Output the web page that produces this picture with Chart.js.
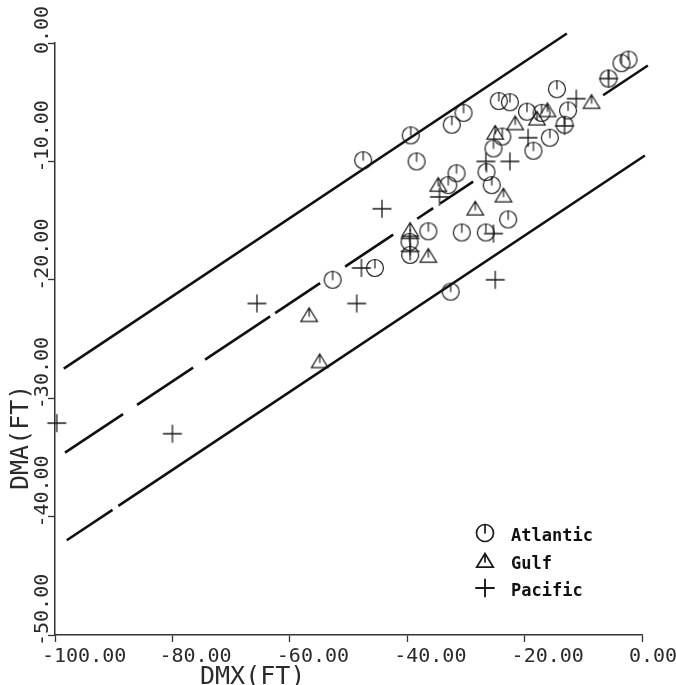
<!DOCTYPE html>
<html><head><meta charset="utf-8">
<script src="https://cdn.jsdelivr.net/npm/chart.js@4.4.1/dist/chart.umd.min.js"></script>
<style>html,body{margin:0;padding:0;background:#fff}#wrap{width:676px;height:685px;position:relative}</style>
</head><body><div id="wrap"><canvas id="c"></canvas></div>
<script>
// ---- data ----
const xTicks = [-100, -80, -60, -40, -20, 0];
const yTicks = [0, -10, -20, -30, -40, -50];
const xTitle = 'DMX(FT)';
const yTitle = 'DMA(FT)';
const seriesNames = ['Atlantic', 'Gulf', 'Pacific'];

const atlantic = [
  [-47.5,-9.9],[-39.4,-7.8],[-38.4,-10.0],[-32.4,-6.9],[-30.4,-5.9],[-31.6,-11.0],[-33.0,-12.0],
  [-22.8,-14.9],[-36.4,-15.9],[-30.7,-16.0],[-26.6,-16.0],[-39.6,-16.8],[-39.5,-17.9],[-45.5,-19.0],
  [-52.7,-20.0],[-32.6,-21.0],[-24.4,-4.9],[-22.5,-5.0],[-14.5,-3.9],[-19.6,-5.8],[-17.1,-5.9],
  [-12.6,-5.7],[-13.2,-6.9],[-15.7,-8.0],[-18.5,-9.1],[-23.8,-7.9],[-25.3,-8.9],[-26.5,-10.9],
  [-25.6,-12.0],[-2.3,-1.4],[-3.5,-1.7],[-5.7,-3.0]
];
const gulf = [
  [-56.7,-23.0],[-54.9,-26.9],[-34.7,-12.0],[-28.4,-14.0],[-39.5,-15.8],[-36.4,-18.0],
  [-23.6,-12.9],[-8.6,-5.0],[-16.1,-5.7],[-17.9,-6.4],[-21.6,-6.8],[-25.0,-7.6]
];
const pacific = [
  [-99.7,-32.1],[-80.0,-33.0],[-65.6,-22.0],[-48.6,-22.0],[-47.8,-19.0],[-44.3,-14.0],
  [-34.5,-13.0],[-39.5,-16.5],[-39.5,-17.6],[-25.3,-16.1],[-25.0,-20.0],[-26.6,-10.0],
  [-22.5,-10.0],[-19.4,-8.0],[-13.2,-7.0],[-11.2,-4.7],[-5.7,-3.0]
];
const upperLine  = [[-98.5,-27.5],[-12.8,0.8]];
const middleLine = [[-98.3,-34.6],[1.0,-1.9]];
const lowerLine  = [[-98.0,-42.0],[0.5,-9.5]];

// ---- markers ----
function marker(kind, lw) {
  const c = document.createElement('canvas');
  c.width = 24; c.height = 24;
  const g = c.getContext('2d');
  g.strokeStyle = '#1a1a1a'; g.lineWidth = lw; g.lineCap = 'round';
  g.translate(12, 12);
  g.beginPath();
  if (kind === 'circle') {
    g.arc(0, 0, 8.5, 0, Math.PI * 2);
    g.moveTo(0, -8.5); g.lineTo(0, 0);
  } else if (kind === 'triangle') {
    g.moveTo(0, -7.5); g.lineTo(8.3, 6.2); g.lineTo(-8.3, 6.2); g.closePath();
    g.moveTo(0, -7.5); g.lineTo(0, 1);
  } else {
    g.moveTo(-9, 0); g.lineTo(9, 0);
    g.moveTo(0, -8.5); g.lineTo(0, 8.5);
  }
  g.stroke();
  return c;
}
const mk = [marker('circle', 1.2), marker('triangle', 1.2), marker('plus', 1.3)];
const mkLegend = [marker('circle', 1.7), marker('triangle', 1.7), marker('plus', 1.9)];

const toPts = a => a.map(p => ({x: p[0], y: p[1]}));

const labelPlugin = {
  id: 'labels',
  afterDraw(chart) {
    const ctx = chart.ctx, xs = chart.scales.x, ys = chart.scales.y;
    ctx.save();
    ctx.fillStyle = '#2a2a2a';
    ctx.textAlign = 'left';
    ctx.textBaseline = 'alphabetic';
    ctx.font = '20px "DejaVu Sans Mono"';
    xTicks.forEach(v => {
      const px = xs.getPixelForValue(v);
      ctx.fillText(v.toFixed(2), px - 13, 662);
    });
    yTicks.forEach(v => {
      const py = ys.getPixelForValue(v);
      ctx.save(); ctx.translate(48, py + 11); ctx.rotate(-Math.PI / 2);
      ctx.fillText(v.toFixed(2), 0, 0); ctx.restore();
    });
    ctx.font = '25px "DejaVu Sans Mono"';
    ctx.fillText(xTitle, 200, 684);
    ctx.save(); ctx.translate(28, 490); ctx.rotate(-Math.PI / 2);
    ctx.fillText(yTitle, 0, 0); ctx.restore();
    // legend
    ctx.fillStyle = '#111';
    ctx.font = 'bold 17px "DejaVu Sans Mono"';
    const ly = [533, 561, 588];
    seriesNames.forEach((n, i) => {
      ctx.drawImage(mkLegend[i], 485 - 12, ly[i] - 12);
      ctx.fillText(n, 511, ly[i] + 8);
    });
    ctx.restore();
  }
};

const lineBase = {type: 'line', showLine: true, pointRadius: 0, borderColor: '#111', borderWidth: 2.6,
  fill: false, clip: false, tension: 0, order: 2};

new Chart(document.getElementById('c'), {
  type: 'scatter',
  data: {
    datasets: [
      Object.assign({}, lineBase, {label: 'upper', data: toPts(upperLine)}),
      Object.assign({}, lineBase, {label: 'middle', data: toPts(middleLine),
        borderDash: [69.7,16.8,67.3,14.4,78.1,6,54,30,57.7,28.8,19.2,8.4,39.6,156,70,0]}),
      Object.assign({}, lineBase, {label: 'lower', data: toPts(lowerLine), borderDash: [55,7,2000,0]}),
      {label: seriesNames[0], data: toPts(atlantic), pointStyle: mk[0], pointRadius: 9, clip: false, order: 1},
      {label: seriesNames[1], data: toPts(gulf), pointStyle: mk[1], pointRadius: 9, clip: false, order: 1},
      {label: seriesNames[2], data: toPts(pacific), pointStyle: mk[2], pointRadius: 9, clip: false, order: 1}
    ]
  },
  options: {
    responsive: true, maintainAspectRatio: false, animation: false,
    events: [],
    layout: {padding: {left: 0, top: 43, right: 34, bottom: 0}},
    plugins: {legend: {display: false}, tooltip: {enabled: false}},
    scales: {
      x: {
        type: 'linear', min: -100, max: 0,
        ticks: {display: false, stepSize: 20},
        grid: {display: true, drawOnChartArea: false, drawTicks: true, tickLength: 7, tickColor: '#333', tickWidth: 1.3},
        border: {display: true, color: '#333', width: 1.5},
        afterFit(s) { s.height = 50; }
      },
      y: {
        type: 'linear', min: -50, max: 0,
        ticks: {display: false, stepSize: 10},
        grid: {display: true, drawOnChartArea: false, drawTicks: true, tickLength: 7, tickColor: '#333', tickWidth: 1.3},
        border: {display: true, color: '#333', width: 1.5},
        afterFit(s) { s.width = 55; }
      }
    }
  },
  plugins: [labelPlugin]
});
</script>
</body></html>
